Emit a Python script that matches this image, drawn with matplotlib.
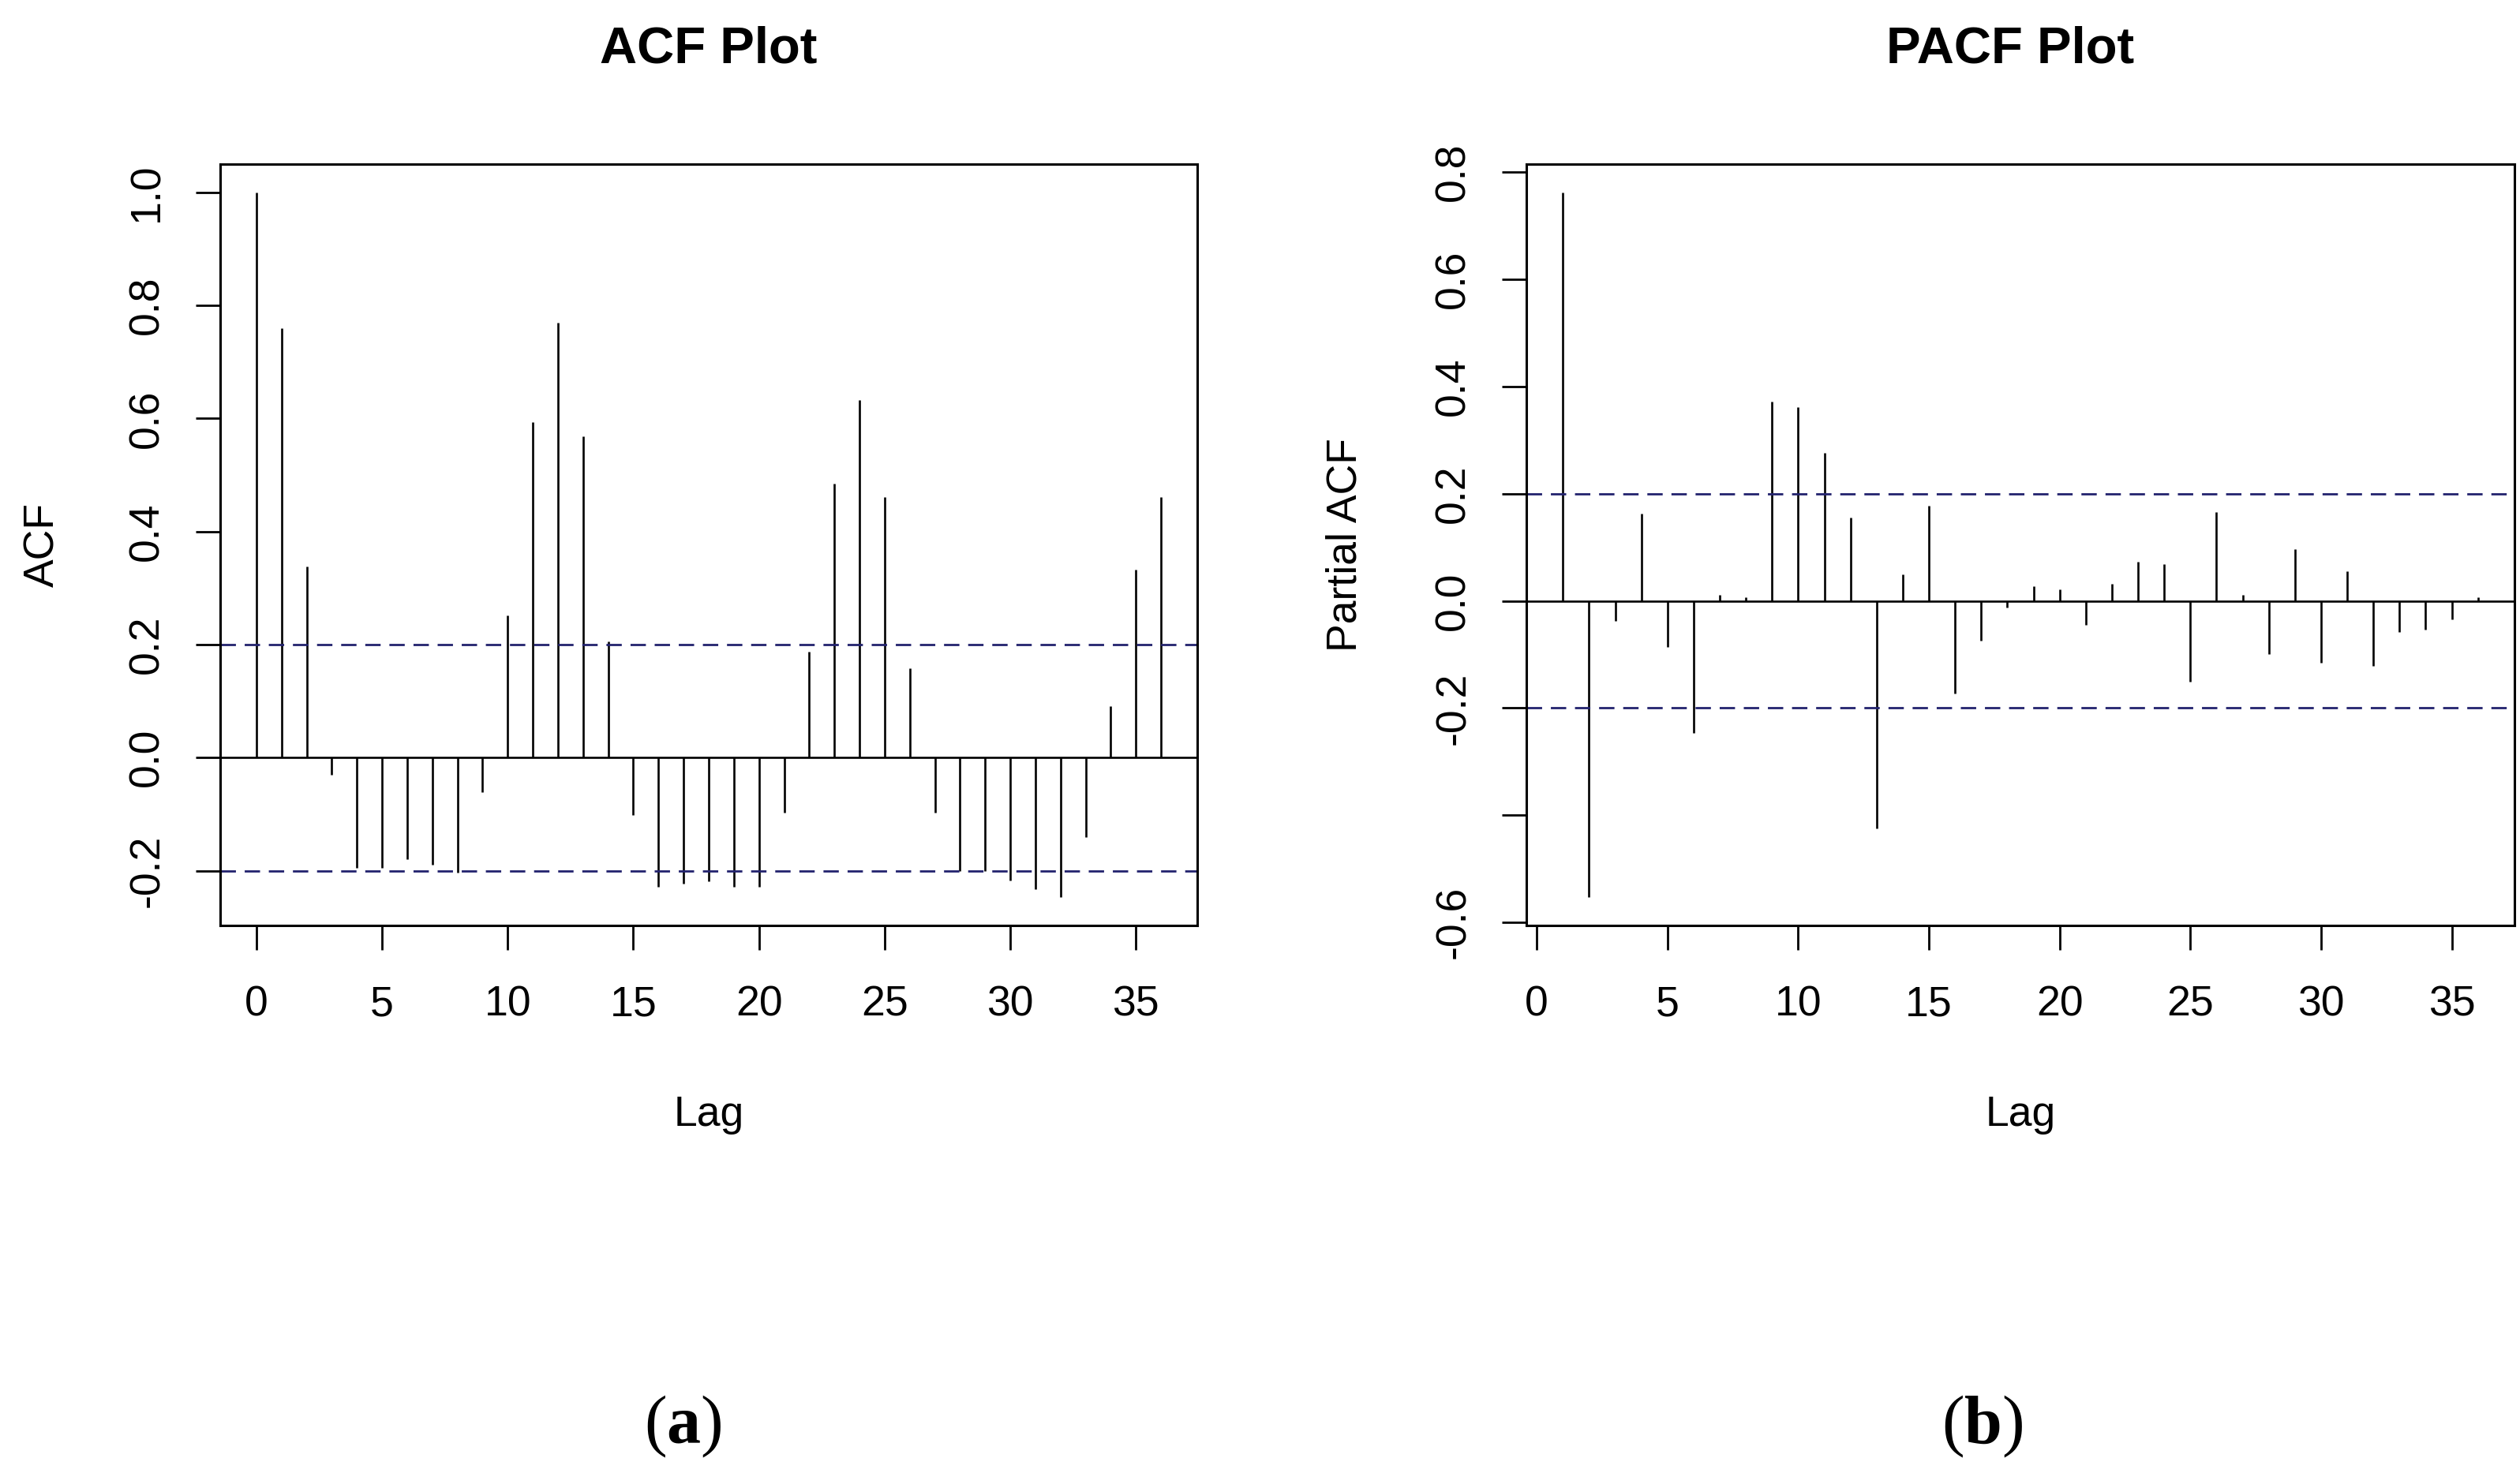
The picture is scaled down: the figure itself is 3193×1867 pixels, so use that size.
import matplotlib
matplotlib.use("Agg")
import matplotlib.pyplot as plt
import numpy as np

# ---------------- data ----------------
acf_lags = list(range(0, 37))
acf_vals = [1.000, 0.759, 0.338, -0.031, -0.195, -0.195, -0.179, -0.189, -0.204,
            -0.061, 0.252, 0.593, 0.769, 0.569, 0.205, -0.102, -0.228, -0.223,
            -0.219, -0.228, -0.228, -0.097, 0.187, 0.485, 0.632, 0.461, 0.158,
            -0.097, -0.200, -0.200, -0.217, -0.232, -0.247, -0.140, 0.091, 0.333,
            0.461]

pacf_lags = list(range(1, 37))
pacf_vals = [0.762, -0.553, -0.038, 0.162, -0.086, -0.246, 0.011, 0.007, 0.372,
             0.362, 0.276, 0.156, -0.424, 0.049, 0.177, -0.173, -0.074, -0.012,
             0.027, 0.022, -0.045, 0.032, 0.073, 0.069, -0.151, 0.166, 0.011,
             -0.100, 0.096, -0.116, 0.055, -0.121, -0.058, -0.054, -0.035, 0.006]

conf_limit = 0.2

x_ticks = [0, 5, 10, 15, 20, 25, 30, 35]
acf_yticks = [-0.2, 0.0, 0.2, 0.4, 0.6, 0.8, 1.0]
acf_yticklabels = ["-0.2", "0.0", "0.2", "0.4", "0.6", "0.8", "1.0"]
pacf_yticks = [-0.6, -0.4, -0.2, 0.0, 0.2, 0.4, 0.6, 0.8]
pacf_yticklabels = ["-0.6", "", "-0.2", "0.0", "0.2", "0.4", "0.6", "0.8"]

titles = ["ACF Plot", "PACF Plot"]
ylabels = ["ACF", "Partial ACF"]
xlabel = "Lag"
panel_letters = ["a", "b"]

# ---------------- style ----------------
plt.rcParams["font.family"] = ["Liberation Sans", "DejaVu Sans"]
plt.rcParams["axes.unicode_minus"] = False
plt.rcParams["mathtext.fontset"] = "custom"
plt.rcParams["mathtext.rm"] = "Liberation Serif"
plt.rcParams["mathtext.bf"] = "Liberation Serif:bold"

W, H = 3193, 1867
fig = plt.figure(figsize=(W / 100, H / 100), dpi=100)
fig.patch.set_facecolor("white")

box_top, box_bot = 208, 1173
box_h = box_bot - box_top
ax1 = fig.add_axes([279 / W, 1 - box_bot / H, 1238 / W, box_h / H])
ax2 = fig.add_axes([1934 / W, 1 - box_bot / H, 1252 / W, box_h / H])

TICK_FS = 38.5
CI_COLOR = "#23236e"

panels = [
    (ax1, acf_lags, acf_vals, acf_yticks, acf_yticklabels, -0.1817, 865, 0.5),
    (ax2, pacf_lags, pacf_vals, pacf_yticks, pacf_yticklabels, -0.1837, 2512, 0.49),
]

for i, (ax, lags, vals, yt, ytl, ylab_x, letter_x, title_x) in enumerate(panels):
    ax.vlines(lags, 0, vals, colors="black", linewidth=1.9)
    ax.axhline(0, color="black", linewidth=1.9)
    ax.axhline(conf_limit, color=CI_COLOR, linewidth=2.0, linestyle=(0, (7, 4)))
    ax.axhline(-conf_limit, color=CI_COLOR, linewidth=2.0, linestyle=(0, (7, 4)))
    ax.margins(x=0.04, y=0.04)

    for sp in ax.spines.values():
        sp.set_linewidth(2.2)
        sp.set_color("black")

    ax.set_xticks(x_ticks)
    ax.set_xticklabels([str(t) for t in x_ticks])
    ax.set_yticks(yt)
    ax.set_yticklabels(ytl, rotation=90, va="center")
    ax.tick_params(axis="both", direction="out", length=22.5, width=2.0,
                   labelsize=TICK_FS, colors="black")
    ax.tick_params(axis="x", pad=32)
    ax.tick_params(axis="y", pad=26)

    ax.set_title(titles[i], fontsize=47, fontweight="bold",
                 x=title_x, y=(box_bot - 62) / box_h, va="center", pad=0)
    ax.set_xlabel(xlabel, fontsize=TICK_FS)
    ax.xaxis.label.set_va("top")
    ax.xaxis.set_label_coords(0.5, -(1388 - box_bot) / box_h)
    ax.set_ylabel(ylabels[i], fontsize=TICK_FS, va="center")
    ax.yaxis.set_label_coords(ylab_x, 0.5)

    fig.text(letter_x / W, 1 - 1808 / H,
             r"$\mathrm{(}\mathbf{%s}\mathrm{)}$" % panel_letters[i],
             fontsize=62, ha="center", va="center")

fig.savefig("out.png", dpi=100, facecolor="white")
